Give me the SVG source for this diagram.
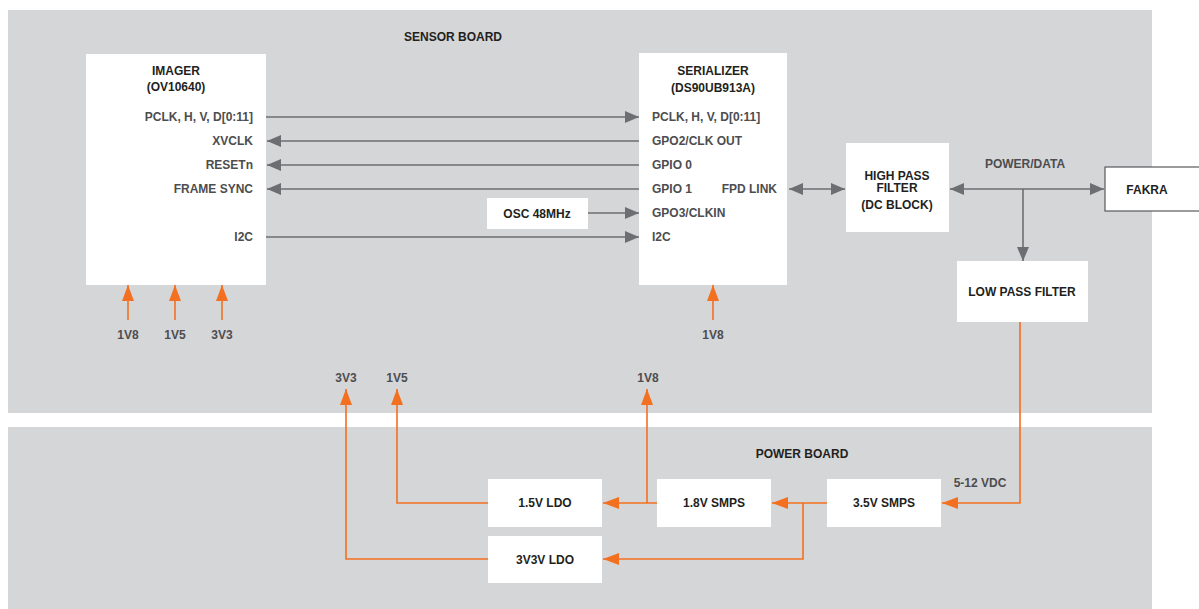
<svg xmlns="http://www.w3.org/2000/svg" width="1199" height="609" viewBox="0 0 1199 609">
<defs>
<style>
text{font-family:"Liberation Sans",Arial,sans-serif;font-weight:bold;font-size:12px;fill:#4d4d4f}
.t{fill:#231f20}
.m{text-anchor:middle}
.e{text-anchor:end}
.box{fill:#ffffff}
.g{stroke:#6d6e71;stroke-width:1.6;fill:none}
.o{stroke:#f37021;stroke-width:1.6;fill:none}
</style>
<marker id="ga" viewBox="0 0 14 12" refX="14" refY="6" markerWidth="14" markerHeight="12" markerUnits="userSpaceOnUse" orient="auto-start-reverse"><path d="M0,0L14,6L0,12Z" fill="#6d6e71"/></marker>
<marker id="oa" viewBox="0 0 16 12" refX="16" refY="6" markerWidth="16" markerHeight="12" markerUnits="userSpaceOnUse" orient="auto-start-reverse"><path d="M0,0L16,6L0,12Z" fill="#f37021"/></marker>
</defs>
<rect width="1199" height="609" fill="#ffffff"/>
<g id="sensor-board"><rect x="8" y="10" width="1144" height="403" fill="#d5d6d8"/><text class="t m" x="453" y="41">SENSOR BOARD</text></g>
<g id="power-board"><rect x="8" y="427" width="1144" height="182" fill="#d5d6d8"/><text class="t m" x="802" y="458">POWER BOARD</text></g>

<g id="imager"><rect class="box" x="86" y="54" width="180" height="231"/>
<text class="t m" x="176" y="75">IMAGER</text><text class="t m" x="176" y="91">(OV10640)</text>
<text class="e" x="253" y="121">PCLK, H, V, D[0:11]</text>
<text class="e" x="253" y="145">XVCLK</text>
<text class="e" x="253" y="169">RESETn</text>
<text class="e" x="253" y="193">FRAME SYNC</text>
<text class="e" x="253" y="241">I2C</text></g>

<g id="serializer"><rect class="box" x="639" y="53" width="148" height="232"/>
<text class="t m" x="713" y="75">SERIALIZER</text><text class="t m" x="713" y="92">(DS90UB913A)</text>
<text x="652" y="121">PCLK, H, V, D[0:11]</text>
<text x="652" y="145">GPO2/CLK OUT</text>
<text x="652" y="169">GPIO 0</text>
<text x="652" y="193">GPIO 1</text>
<text x="652" y="217">GPO3/CLKIN</text>
<text x="652" y="241">I2C</text>
<text class="e" x="777" y="193">FPD LINK</text></g>

<g id="osc"><rect class="box" x="487" y="198" width="101" height="31"/><text class="t m" x="537" y="218">OSC 48MHz</text></g>
<g id="hpf"><rect class="box" x="846" y="143" width="103" height="89"/>
<text class="t m" x="897" y="180">HIGH PASS</text><text class="t m" x="897" y="192">FILTER</text><text class="t m" x="897" y="209">(DC BLOCK)</text></g>
<g id="fakra"><rect x="1105" y="167" width="100" height="44" fill="#ffffff" stroke="#58595b" stroke-width="1.2"/><text class="t m" x="1147" y="194">FAKRA</text></g>
<g id="lpf"><rect class="box" x="957" y="261" width="131" height="61"/><text class="t m" x="1022" y="296">LOW PASS FILTER</text></g>
<g id="ldo15"><rect class="box" x="488" y="479" width="114" height="48"/><text class="t m" x="545" y="507">1.5V LDO</text></g>
<g id="ldo33"><rect class="box" x="488" y="536" width="114" height="47"/><text class="t m" x="545" y="564">3V3V LDO</text></g>
<g id="smps18"><rect class="box" x="657" y="479" width="114" height="48"/><text class="t m" x="714" y="507">1.8V SMPS</text></g>
<g id="smps35"><rect class="box" x="827" y="479" width="114" height="48"/><text class="t m" x="884" y="507">3.5V SMPS</text></g>

<g id="labels">
<text class="m" x="128" y="339">1V8</text><text class="m" x="175" y="339">1V5</text><text class="m" x="222" y="339">3V3</text>
<text class="m" x="713" y="339">1V8</text>
<text class="m" x="346" y="382">3V3</text><text class="m" x="397" y="382">1V5</text><text class="m" x="648" y="382">1V8</text>
<text class="m" x="1025" y="168">POWER/DATA</text>
<text class="m" x="980" y="487">5-12 VDC</text>
</g>

<g id="connectors">
<path class="g" d="M266,117H639" marker-end="url(#ga)"/>
<path class="g" d="M639,141H267" marker-end="url(#ga)"/>
<path class="g" d="M639,165H267" marker-end="url(#ga)"/>
<path class="g" d="M639,189H267" marker-end="url(#ga)"/>
<path class="g" d="M588,213H639" marker-end="url(#ga)"/>
<path class="g" d="M266,237H639" marker-end="url(#ga)"/>
<path class="g" d="M789,189H845" marker-start="url(#ga)" marker-end="url(#ga)"/>
<path class="g" d="M950,189H1104" marker-start="url(#ga)" marker-end="url(#ga)"/>
<path class="g" d="M1023,189V261" marker-end="url(#ga)"/>
<path class="o" d="M128,320V285" marker-end="url(#oa)"/>
<path class="o" d="M175,320V285" marker-end="url(#oa)"/>
<path class="o" d="M222,320V285" marker-end="url(#oa)"/>
<path class="o" d="M713,320V285" marker-end="url(#oa)"/>
<path class="o" d="M1020,322V503H942" marker-end="url(#oa)"/>
<path class="o" d="M827,503H772" marker-end="url(#oa)"/>
<path class="o" d="M803,503V559H603" marker-end="url(#oa)"/>
<path class="o" d="M657,503H603" marker-end="url(#oa)"/>
<path class="o" d="M647,503V389" marker-end="url(#oa)"/>
<path class="o" d="M488,503H397V389" marker-end="url(#oa)"/>
<path class="o" d="M488,559H346V389" marker-end="url(#oa)"/>
</g>
</svg>
